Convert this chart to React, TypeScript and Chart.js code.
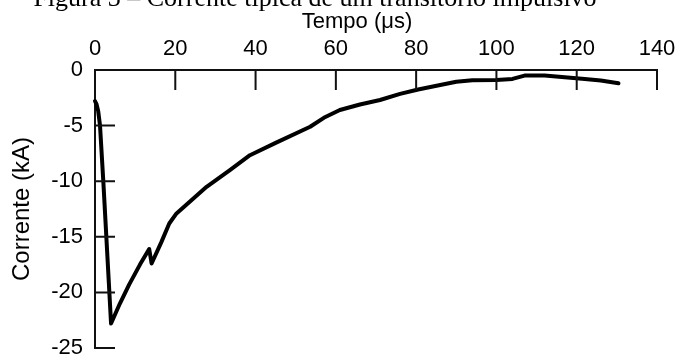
import React, { useEffect, useRef } from "react";
import { Chart, registerables } from "chart.js";

Chart.register(...registerables);

const caption = "Figura 3 – Corrente típica de um transitório impulsivo";
const xTitle = "Tempo (μs)";
const yTitle = "Corrente (kA)";

const timeUs = [
  0, 0.4, 0.8, 1.25, 2.1, 4.0, 6.2, 8.5, 11.2, 13.5, 14.1, 16.5, 18.5, 20.3,
  27.8, 33.6, 38.6, 45, 53.6, 57, 61, 66, 71, 76, 80.5, 86, 90, 94, 100, 104,
  107, 112, 117, 122, 126, 130.4,
];
const currentKA = [
  -2.8, -3.1, -3.7, -5.0, -10.2, -22.8, -21.0, -19.3, -17.5, -16.1, -17.4,
  -15.5, -13.8, -12.9, -10.5, -9.0, -7.66, -6.55, -5.1, -4.3, -3.6, -3.1, -2.7,
  -2.15, -1.75, -1.35, -1.05, -0.92, -0.9, -0.8, -0.5, -0.5, -0.65, -0.8,
  -0.95, -1.2,
];
const xTicks = [0, 20, 40, 60, 80, 100, 120, 140];
const yTicks = [0, -5, -10, -15, -20, -25];

const SANS = '"Liberation Sans", Arial, sans-serif';

export default function App() {
  const ref = useRef<HTMLCanvasElement>(null);

  useEffect(() => {
    document.body.style.margin = "0";
    const canvas = ref.current;
    if (!canvas) return;

    const inwardTicks = {
      id: "inwardTicks",
      afterDraw(chart: any) {
        const { ctx, scales } = chart;
        const xs = scales.x;
        const ys = scales.y;
        const top = chart.chartArea.top;
        const left = chart.chartArea.left;
        ctx.save();
        ctx.strokeStyle = "#111";
        ctx.lineWidth = 2;
        ctx.beginPath();
        xTicks.forEach((v) => {
          if (v === 0) return;
          const px = xs.getPixelForValue(v);
          ctx.moveTo(px, top);
          ctx.lineTo(px, top + 20);
        });
        yTicks.forEach((v) => {
          if (v === 0) return;
          const py = ys.getPixelForValue(v);
          ctx.moveTo(left, py);
          ctx.lineTo(left + 20, py);
        });
        ctx.stroke();

        ctx.fillStyle = "#000";
        ctx.font = '26px "Liberation Serif", "Times New Roman", serif';
        ctx.textAlign = "center";
        ctx.textBaseline = "alphabetic";
        ctx.fillText(caption, 315, 6);

        ctx.font = "22px " + SANS;
        ctx.textBaseline = "middle";
        ctx.fillText(xTitle, 357, 22);
        ctx.restore();
      },
    };

    const chart = new Chart(canvas, {
      type: "line",
      data: {
        datasets: [
          {
            data: timeUs.map((t, i) => ({ x: t, y: currentKA[i] })),
            borderColor: "#000",
            borderWidth: 4,
            pointRadius: 0,
            tension: 0,
            fill: false,
            borderCapStyle: "round",
            borderJoinStyle: "round",
            clip: false as any,
          },
        ],
      },
      options: {
        animation: false,
        responsive: false,
        devicePixelRatio: 1,
        layout: { padding: { left: 0, top: 0, right: 24, bottom: 10 } },
        plugins: {
          legend: { display: false },
          tooltip: { enabled: false },
          title: { display: false },
        },
        scales: {
          x: {
            type: "linear",
            position: "top",
            min: 0,
            max: 140,
            afterBuildTicks: (s: any) => {
              s.ticks = xTicks.map((v) => ({ value: v }));
            },
            ticks: {
              padding: 8,
              color: "#000",
              maxRotation: 0,
              font: { size: 22, family: SANS },
            },
            grid: { drawOnChartArea: false, drawTicks: false },
            border: { display: true, color: "#111", width: 2 },
            afterFit: (s: any) => {
              s.height = 70;
              s.paddingLeft = 0;
              s.paddingRight = 0;
            },
          },
          y: {
            type: "linear",
            position: "left",
            min: -25,
            max: 0,
            afterBuildTicks: (s: any) => {
              s.ticks = yTicks.map((v) => ({ value: v }));
            },
            ticks: {
              padding: 12,
              color: "#000",
              font: { size: 22, family: SANS },
            },
            title: {
              display: true,
              text: yTitle,
              color: "#000",
              font: { size: 24, family: SANS },
              padding: { top: 8, bottom: 0 },
            },
            grid: { drawOnChartArea: false, drawTicks: false },
            border: { display: true, color: "#111", width: 2 },
            afterFit: (s: any) => {
              s.width = 95;
              s.paddingTop = 0;
              s.paddingBottom = 0;
            },
          },
        },
      },
      plugins: [inwardTicks],
    });

    return () => chart.destroy();
  }, []);

  return (
    <div style={{ position: "relative", width: 681, height: 358, overflow: "hidden" }}>
      <canvas ref={ref} width={681} height={358} style={{ display: "block", width: 681, height: 358 }} />
    </div>
  );
}
